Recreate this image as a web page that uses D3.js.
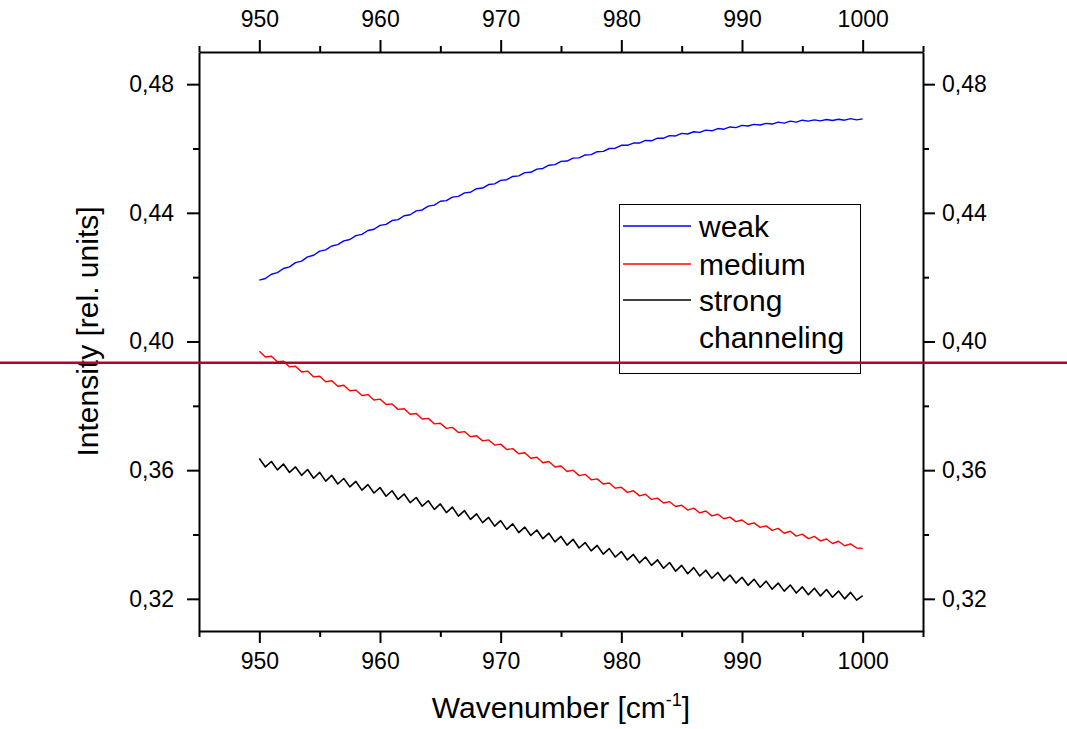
<!DOCTYPE html>
<html>
<head>
<meta charset="utf-8">
<script src="https://cdn.jsdelivr.net/npm/d3@7"></script>
<style>
  html, body { margin: 0; padding: 0; background: #fff; }
  svg { display: block; font-family: "Liberation Sans", Arial, sans-serif; }
</style>
</head>
<body>
<svg id="chart" width="1067" height="729"></svg>
<script>
// Wavenumber grid shared by all three spectra [cm^-1]
const wavenumbers = [
  950, 950.5, 951, 951.5, 952, 952.5, 953, 953.5, 954, 954.5,
  955, 955.5, 956, 956.5, 957, 957.5, 958, 958.5, 959, 959.5,
  960, 960.5, 961, 961.5, 962, 962.5, 963, 963.5, 964, 964.5,
  965, 965.5, 966, 966.5, 967, 967.5, 968, 968.5, 969, 969.5,
  970, 970.5, 971, 971.5, 972, 972.5, 973, 973.5, 974, 974.5,
  975, 975.5, 976, 976.5, 977, 977.5, 978, 978.5, 979, 979.5,
  980, 980.5, 981, 981.5, 982, 982.5, 983, 983.5, 984, 984.5,
  985, 985.5, 986, 986.5, 987, 987.5, 988, 988.5, 989, 989.5,
  990, 990.5, 991, 991.5, 992, 992.5, 993, 993.5, 994, 994.5,
  995, 995.5, 996, 996.5, 997, 997.5, 998, 998.5, 999, 999.5,
  1000
];

// Intensity, weak channeling
const weak = [
  .4191, .4196, .4209, .4214, .4227, .4232, .4245, .4250, .4263, .4268,
  .4281, .4285, .4297, .4301, .4313, .4317, .4329, .4333, .4345, .4349,
  .4361, .4364, .4376, .4379, .4391, .4394, .4406, .4409, .4421, .4424,
  .4436, .4438, .4449, .4451, .4462, .4464, .4475, .4477, .4488, .4490,
  .4501, .4503, .4513, .4515, .4525, .4526, .4536, .4538, .4548, .4550,
  .4560, .4561, .4570, .4571, .4580, .4581, .4590, .4591, .4600, .4601,
  .4610, .4610, .4617, .4617, .4625, .4624, .4632, .4632, .4640, .4639,
  .4647, .4645, .4652, .4650, .4657, .4655, .4662, .4660, .4667, .4665,
  .4672, .4670, .4675, .4673, .4678, .4676, .4682, .4679, .4685, .4682,
  .4688, .4685, .4689, .4686, .4690, .4687, .4691, .4688, .4693, .4689,
  .4692
];

// Intensity, medium channeling
const medium = [
  .3970, .3952, .3954, .3937, .3939, .3921, .3923, .3905, .3908, .3890,
  .3892, .3875, .3878, .3861, .3864, .3847, .3849, .3832, .3835, .3818,
  .3821, .3804, .3806, .3789, .3791, .3774, .3776, .3759, .3761, .3744,
  .3746, .3730, .3733, .3717, .3720, .3704, .3707, .3691, .3694, .3678,
  .3681, .3664, .3667, .3651, .3654, .3637, .3640, .3623, .3627, .3610,
  .3613, .3596, .3600, .3583, .3587, .3570, .3573, .3557, .3560, .3544,
  .3547, .3531, .3536, .3520, .3525, .3509, .3513, .3498, .3502, .3487,
  .3491, .3476, .3482, .3467, .3473, .3458, .3463, .3449, .3454, .3440,
  .3445, .3431, .3436, .3422, .3427, .3413, .3419, .3404, .3410, .3395,
  .3401, .3387, .3394, .3380, .3386, .3372, .3379, .3365, .3371, .3358,
  .3357
];

// Intensity, strong channeling
const strong = [
  .3636, .3610, .3627, .3601, .3619, .3593, .3610, .3584, .3602, .3575,
  .3593, .3566, .3584, .3557, .3574, .3548, .3565, .3538, .3555, .3529,
  .3546, .3519, .3536, .3509, .3526, .3499, .3515, .3488, .3505, .3478,
  .3495, .3468, .3485, .3457, .3474, .3447, .3464, .3437, .3453, .3426,
  .3443, .3416, .3433, .3406, .3423, .3397, .3414, .3387, .3404, .3377,
  .3394, .3367, .3385, .3358, .3375, .3349, .3366, .3339, .3356, .3330,
  .3347, .3321, .3338, .3312, .3330, .3304, .3321, .3295, .3313, .3286,
  .3304, .3278, .3297, .3271, .3289, .3264, .3282, .3256, .3274, .3249,
  .3267, .3242, .3261, .3236, .3255, .3230, .3249, .3224, .3243, .3218,
  .3237, .3213, .3233, .3209, .3229, .3205, .3224, .3200, .3220, .3196,
  .3210
];

// Reference level marked across the whole figure
const referenceLevel = 0.3934;

const seriesNames = ["weak", "medium", "strong"];
const seriesColors = ["#0000ff", "#ff0000", "#000000"];
const seriesWidths = [1.4, 1.4, 1.6];
const legendLabels = ["weak", "medium", "strong", "channeling"];

const xMajorTicks = [950, 960, 970, 980, 990, 1000];
const xMinorTicks = [945, 955, 965, 975, 985, 995, 1005];
const yMajorTicks = [0.32, 0.36, 0.40, 0.44, 0.48];
const yMinorTicks = [0.34, 0.38, 0.42, 0.46];

const W = 1067, H = 729;
const plot = { left: 199, right: 923, top: 52, bottom: 631 };

const svg = d3.select("#chart");

const x = d3.scaleLinear().domain([945, 1005]).range([plot.left, plot.right]);
const y = d3.scaleLinear().domain([0.31, 0.49]).range([plot.bottom, plot.top]);

const fmtY = v => d3.format(".2f")(v).replace(".", ",");
const TICK_FONT = 23;

function styleAxis(g) {
  g.select(".domain").attr("stroke", "#000").attr("stroke-width", 2);
  g.selectAll(".tick line").attr("stroke", "#000").attr("stroke-width", 2);
  g.selectAll(".tick text").attr("fill", "#000").attr("font-size", TICK_FONT)
    .attr("font-family", "'Liberation Sans', Arial, sans-serif");
}

// Bottom axis
svg.append("g").attr("transform", `translate(0,${plot.bottom})`)
  .call(d3.axisBottom(x).tickValues(xMinorTicks).tickSize(6).tickFormat(""))
  .call(g => { styleAxis(g); g.select(".domain").remove(); });
svg.append("g").attr("transform", `translate(0,${plot.bottom})`)
  .call(d3.axisBottom(x).tickValues(xMajorTicks).tickSize(12).tickSizeOuter(0).tickPadding(10).tickFormat(d3.format("d")))
  .call(styleAxis);

// Top axis
svg.append("g").attr("transform", `translate(0,${plot.top})`)
  .call(d3.axisTop(x).tickValues(xMinorTicks).tickSize(6).tickFormat(""))
  .call(g => { styleAxis(g); g.select(".domain").remove(); });
svg.append("g").attr("transform", `translate(0,${plot.top})`)
  .call(d3.axisTop(x).tickValues(xMajorTicks).tickSize(12).tickSizeOuter(0).tickPadding(13).tickFormat(d3.format("d")))
  .call(styleAxis);

// Left axis
svg.append("g").attr("transform", `translate(${plot.left},0)`)
  .call(d3.axisLeft(y).tickValues(yMinorTicks).tickSize(6).tickFormat(""))
  .call(g => { styleAxis(g); g.select(".domain").remove(); });
svg.append("g").attr("transform", `translate(${plot.left},0)`)
  .call(d3.axisLeft(y).tickValues(yMajorTicks).tickSize(12).tickSizeOuter(0).tickPadding(13).tickFormat(fmtY))
  .call(styleAxis);

// Right axis
svg.append("g").attr("transform", `translate(${plot.right},0)`)
  .call(d3.axisRight(y).tickValues(yMinorTicks).tickSize(6).tickFormat(""))
  .call(g => { styleAxis(g); g.select(".domain").remove(); });
svg.append("g").attr("transform", `translate(${plot.right},0)`)
  .call(d3.axisRight(y).tickValues(yMajorTicks).tickSize(12).tickSizeOuter(0).tickPadding(7).tickFormat(fmtY))
  .call(styleAxis);

// Spectra
const seriesValues = [weak, medium, strong];
const line = d3.line().x(d => x(d[0])).y(d => y(d[1]));
seriesValues.forEach((vals, i) => {
  svg.append("path")
    .datum(wavenumbers.map((w, j) => [w, vals[j]]))
    .attr("class", "series-" + seriesNames[i])
    .attr("fill", "none")
    .attr("stroke", seriesColors[i])
    .attr("stroke-width", seriesWidths[i])
    .attr("stroke-linejoin", "round")
    .attr("d", line);
});

// Legend
const legend = svg.append("g").attr("class", "legend");
legend.append("rect")
  .attr("x", 619.5).attr("y", 204.5).attr("width", 241).attr("height", 169)
  .attr("fill", "#fff").attr("stroke", "#000").attr("stroke-width", 1);
const rowY = [226, 264, 300, 337];
legendLabels.forEach((lab, i) => {
  if (i < seriesColors.length) {
    legend.append("line")
      .attr("x1", 623).attr("x2", 691).attr("y1", rowY[i]).attr("y2", rowY[i])
      .attr("stroke", seriesColors[i]).attr("stroke-width", 1.3);
  }
  legend.append("text")
    .attr("x", 699).attr("y", rowY[i]).attr("dy", "0.36em")
    .attr("font-size", 30).attr("fill", "#000")
    .text(lab);
});

// Axis titles
const xTitle = svg.append("text")
  .attr("x", (plot.left + plot.right) / 2).attr("y", 718)
  .attr("text-anchor", "middle").attr("font-size", 30).attr("fill", "#000");
xTitle.append("tspan").text("Wavenumber [cm");
xTitle.append("tspan").attr("font-size", 18).attr("dy", -12).text("-1");
xTitle.append("tspan").attr("dy", 12).text("]");

svg.append("text")
  .attr("transform", `translate(98,${(plot.top + plot.bottom) / 2 - 10}) rotate(-90)`)
  .attr("text-anchor", "middle").attr("font-size", 30).attr("fill", "#000")
  .text("Intensity [rel. units]");

// Reference level line spanning the full figure width
svg.append("line")
  .attr("x1", 0).attr("x2", W)
  .attr("y1", y(referenceLevel)).attr("y2", y(referenceLevel))
  .attr("stroke", "#b5002e").attr("stroke-width", 2.5);
</script>
</body>
</html>
